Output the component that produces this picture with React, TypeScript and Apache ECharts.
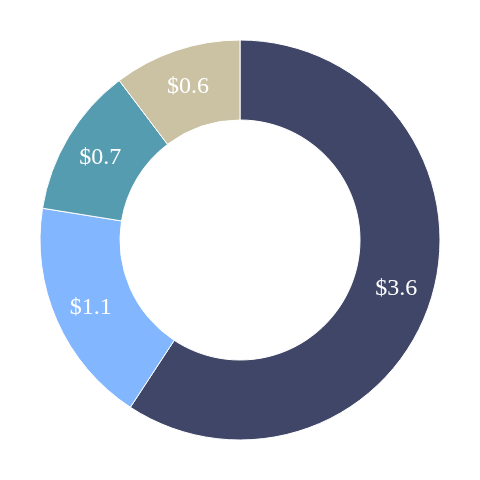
import React, { useEffect, useRef } from "react";
import * as echarts from "echarts";

const categories = ["A", "B", "C", "D"];
const values = [3.56, 1.1, 0.73, 0.62];
const colors = ["#3f4667", "#82b6ff", "#559cb0", "#cbc2a4"];

export default function App() {
  const ref = useRef<HTMLDivElement>(null);

  useEffect(() => {
    if (!ref.current) return;
    const chart = echarts.init(ref.current, null, { renderer: "svg" });
    chart.setOption({
      animation: false,
      series: [
        {
          type: "pie",
          center: ["50%", "50%"],
          radius: [120, 200],
          startAngle: 90,
          clockwise: true,
          data: categories.map((name, i) => ({
            name,
            value: values[i],
            itemStyle: { color: colors[i] },
          })),
          itemStyle: { borderColor: "#ffffff", borderWidth: 1 },
          label: {
            show: true,
            position: "inside",
            formatter: (p: any) => "$" + p.value.toFixed(1),
            color: "#ffffff",
            fontFamily: "'Times New Roman', 'Liberation Serif', Times, serif",
            fontSize: 24,
          },
          labelLine: { show: false },
          emphasis: { disabled: true },
        },
      ],
    });
    return () => chart.dispose();
  }, []);

  return (
    <div
      ref={ref}
      style={{ position: "fixed", left: 0, top: 0, width: 480, height: 480 }}
    />
  );
}
